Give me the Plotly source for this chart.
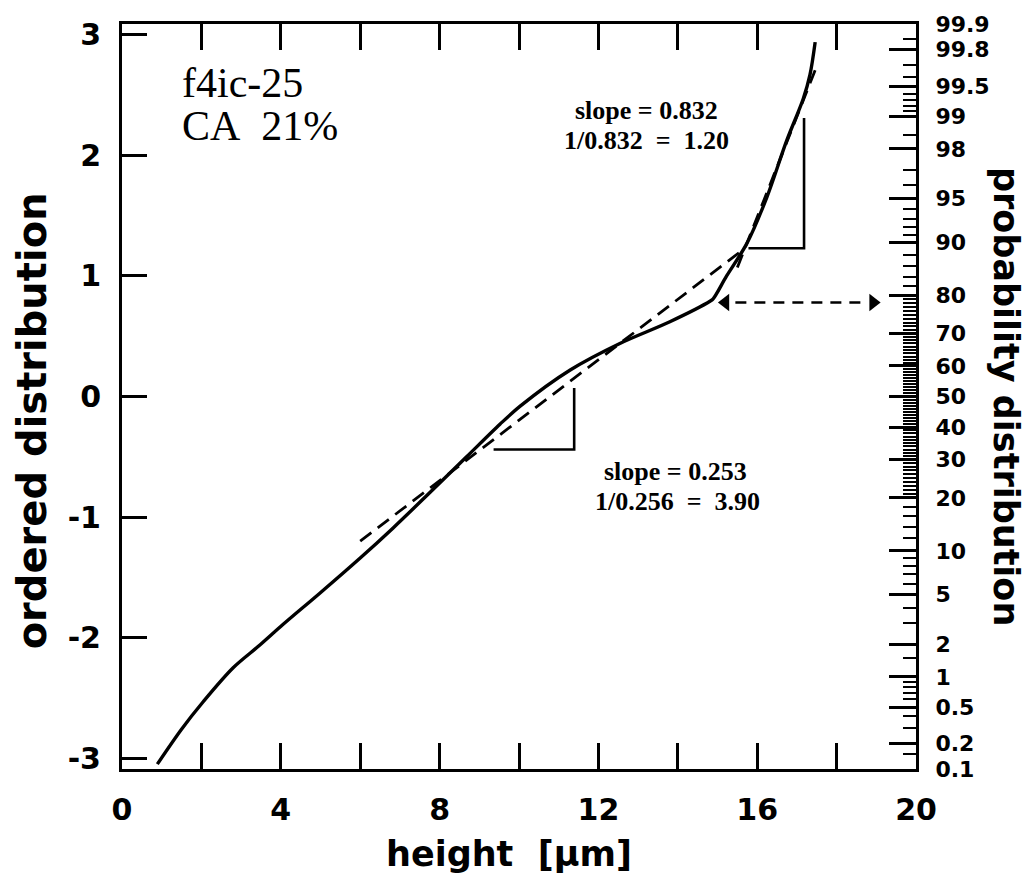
import plotly.graph_objects as go
from statistics import NormalDist

# ---------------- data ----------------
curve_x = [0.89, 1.50, 2.05, 2.80, 3.48, 4.06, 4.99, 6.00, 6.83, 7.84, 8.68, 9.52,
           10.03, 11.29, 12.54, 13.80, 14.81, 14.89, 15.23, 15.74, 16.24, 16.74,
           17.16, 17.33, 17.46]
curve_y = [-3.05, -2.76, -2.53, -2.25, -2.06, -1.89, -1.63, -1.34, -1.09, -0.77,
           -0.50, -0.23, -0.08, 0.22, 0.44, 0.62, 0.79, 0.81, 1.00, 1.27, 1.65,
           2.12, 2.47, 2.67, 2.94]

fit_low_x = [6.00, 15.69]
fit_low_y = [-1.20, 1.23]
fit_high_x = [15.50, 17.50]
fit_high_y = [1.07, 2.74]

tri_low_x = [9.36, 11.39, 11.39]
tri_low_y = [-0.44, -0.44, 0.07]
tri_high_x = [15.78, 17.18, 17.18]
tri_high_y = [1.23, 1.23, 2.31]

arrow_x = [15.45, 18.80]
arrow_y = [0.78, 0.78]
arrow_head_left_x = [15.20]
arrow_head_right_x = [18.92]
arrow_head_y = [0.78]

x_major = [0, 4, 8, 12, 16, 20]
x_minor = [2, 6, 10, 14, 18]
y_major = [-3, -2, -1, 0, 1, 2, 3]

prob_labels = ["0.1", "0.2", "0.5", "1", "2", "5", "10", "20", "30", "40", "50",
               "60", "70", "80", "90", "95", "98", "99", "99.5", "99.8", "99.9"]
prob_minor = [0.15, 0.3, 0.4, 0.6, 0.7, 0.8, 0.9, 1.5, 3, 4, 6, 7, 8, 9,
              12, 14, 16, 18,
              21, 22, 23, 24, 25, 26, 27, 28, 29, 31, 32, 33, 34, 35, 36, 37, 38, 39,
              41, 42, 43, 44, 45, 46, 47, 48, 49, 51, 52, 53, 54, 55, 56, 57, 58, 59,
              61, 62, 63, 64, 65, 66, 67, 68, 69, 71, 72, 73, 74, 75, 76, 77, 78, 79,
              82, 84, 86, 88,
              91, 92, 93, 94, 96, 97, 98.5, 99.1, 99.2, 99.3, 99.4, 99.6, 99.7, 99.85]

# ---------------- figure ----------------
nd = NormalDist()
prob_major_z = [nd.inv_cdf(float(p) / 100.0) for p in prob_labels]
prob_minor_z = [nd.inv_cdf(p / 100.0) for p in prob_minor]

YR = [-3.0902, 3.0902]
fig = go.Figure()

fig.add_trace(go.Scatter(x=curve_x, y=curve_y, mode="lines",
                         line=dict(color="black", width=3.4, shape="spline", smoothing=0.9),
                         showlegend=False, hoverinfo="skip"))
fig.add_trace(go.Scatter(x=fit_low_x, y=fit_low_y, mode="lines",
                         line=dict(color="black", width=2.8, dash="14px,8px"),
                         showlegend=False, hoverinfo="skip"))
fig.add_trace(go.Scatter(x=fit_high_x, y=fit_high_y, mode="lines",
                         line=dict(color="black", width=2.8, dash="14px,8px"),
                         showlegend=False, hoverinfo="skip"))
fig.add_trace(go.Scatter(x=tri_low_x, y=tri_low_y, mode="lines",
                         line=dict(color="black", width=2.6),
                         showlegend=False, hoverinfo="skip"))
fig.add_trace(go.Scatter(x=tri_high_x, y=tri_high_y, mode="lines",
                         line=dict(color="black", width=2.6),
                         showlegend=False, hoverinfo="skip"))
fig.add_trace(go.Scatter(x=arrow_x, y=arrow_y, mode="lines", yaxis="y2",
                         line=dict(color="black", width=2.6, dash="11px,8px"),
                         showlegend=False, hoverinfo="skip"))
fig.add_trace(go.Scatter(x=arrow_head_left_x, y=arrow_head_y, mode="markers", yaxis="y2",
                         marker=dict(symbol="triangle-left", size=15, color="black"),
                         showlegend=False, hoverinfo="skip"))
fig.add_trace(go.Scatter(x=arrow_head_right_x, y=arrow_head_y, mode="markers", yaxis="y2",
                         marker=dict(symbol="triangle-right", size=15, color="black"),
                         showlegend=False, hoverinfo="skip"))

tick_font = dict(family="DejaVu Sans", size=30, color="black", weight="bold")

fig.update_layout(
    width=1032, height=878,
    margin=dict(l=122, r=116, t=18, b=109),
    paper_bgcolor="white", plot_bgcolor="white",
    xaxis=dict(range=[0, 20], tickmode="array", tickvals=x_major,
               ticktext=[str(v) for v in x_major],
               ticks="inside", ticklen=26, tickwidth=3, tickcolor="black",
               minor=dict(tickvals=x_minor, ticks="inside", ticklen=14,
                          tickwidth=3, tickcolor="black"),
               showline=True, linewidth=3, linecolor="black", mirror="allticks",
               showgrid=False, zeroline=False, tickfont=tick_font,
               ticklabelstandoff=12),
    yaxis=dict(range=YR, tickmode="array", tickvals=y_major,
               ticktext=[str(v) for v in y_major],
               ticks="inside", ticklen=25, tickwidth=3, tickcolor="black",
               showline=True, linewidth=3, linecolor="black", mirror=False,
               showgrid=False, zeroline=False, tickfont=tick_font,
               ticklabelstandoff=12),
    yaxis2=dict(range=YR, overlaying="y", side="right", tickmode="array",
                tickvals=prob_major_z, ticktext=prob_labels,
                ticks="inside", ticklen=27, tickwidth=2.5, tickcolor="black",
                minor=dict(tickvals=prob_minor_z, ticks="inside", ticklen=13,
                           tickwidth=2, tickcolor="black"),
                showline=True, linewidth=3, linecolor="black",
                showgrid=False, zeroline=False,
                tickfont=dict(family="DejaVu Sans", size=22, color="black", weight="bold"),
                ticklabelstandoff=12),
)

serif = "Liberation Serif"
annots = [
    dict(text="f4ic-25", x=1.47, y=2.60, xref="x", yref="y", xanchor="left",
         yanchor="middle", font=dict(family=serif, size=42, color="black")),
    dict(text="CA\u00a0\u00a021%", x=1.47, y=2.24, xref="x", yref="y", xanchor="left",
         yanchor="middle", font=dict(family=serif, size=42, color="black")),
    dict(text="slope = 0.832", x=13.2, y=2.37, xref="x", yref="y",
         font=dict(family=serif, size=26, color="black", weight="bold")),
    dict(text="1/0.832\u00a0\u00a0=\u00a0\u00a01.20", x=13.2, y=2.12, xref="x", yref="y",
         font=dict(family=serif, size=26, color="black", weight="bold")),
    dict(text="slope = 0.253", x=13.93, y=-0.62, xref="x", yref="y",
         font=dict(family=serif, size=26, color="black", weight="bold")),
    dict(text="1/0.256\u00a0\u00a0=\u00a0\u00a03.90", x=13.98, y=-0.87, xref="x", yref="y",
         font=dict(family=serif, size=26, color="black", weight="bold")),
    dict(text="height\u00a0\u00a0[\u03bcm]", x=0.487, y=-0.114, xref="paper", yref="paper",
         xanchor="center", yanchor="middle",
         font=dict(family="DejaVu Sans", size=35, color="black", weight="bold")),
    dict(text="ordered distribution", x=-0.113, y=0.467, xref="paper", yref="paper",
         textangle=-90, xanchor="center", yanchor="middle",
         font=dict(family="DejaVu Sans", size=40, color="black", weight="bold")),
    dict(text="probability distribution", x=1.114, y=0.50, xref="paper", yref="paper",
         textangle=90, xanchor="center", yanchor="middle",
         font=dict(family="DejaVu Sans", size=35, color="black", weight="bold")),
]
for a in annots:
    a.setdefault("showarrow", False)
    fig.add_annotation(**a)

fig.write_html("out.html")
